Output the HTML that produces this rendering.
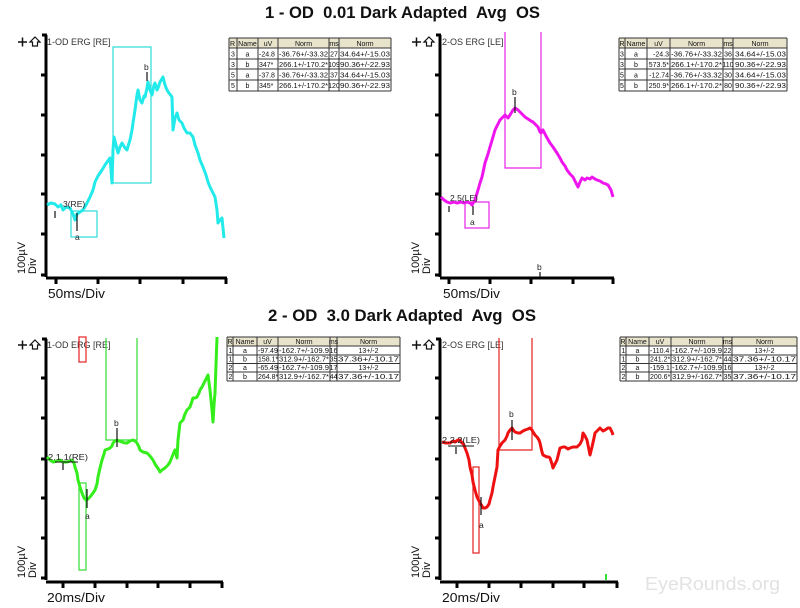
<!DOCTYPE html>
<html><head><meta charset="utf-8">
<style>
html,body{margin:0;padding:0;background:#fff;}
svg{display:block;}
text{font-family:"Liberation Sans",Arial,sans-serif;}
.t{font-size:7px;fill:#111;}
.lbl{font-size:9px;fill:#333;}
.sm{font-size:8.5px;fill:#222;}
</style></head>
<body>
<svg width="800" height="608" viewBox="0 0 800 608" xmlns="http://www.w3.org/2000/svg">
<rect width="800" height="608" fill="#fff"/>

<!-- Titles -->
<text x="265" y="18" font-size="17" font-weight="bold" fill="#111" textLength="275" lengthAdjust="spacingAndGlyphs" xml:space="preserve">1 - OD  0.01 Dark Adapted  Avg  OS</text>
<text x="268" y="321" font-size="17" font-weight="bold" fill="#111" textLength="268" lengthAdjust="spacingAndGlyphs" xml:space="preserve">2 - OD  3.0 Dark Adapted  Avg  OS</text>

<!-- ============ PANEL TL ============ -->
<g>
<path d="M18 42H27M22.5 37.5V46.5" stroke="#111" stroke-width="1.5"/>
<path d="M35 37 L40 42 L37.5 42 L37.5 46 L32.5 46 L32.5 42 L30 42 Z" fill="none" stroke="#111" stroke-width="1.2"/>
<text x="47" y="45" class="lbl">1-OD ERG [RE]</text>
<path d="M46 35V277M42 35H47M41 75H46M41 115H46M41 155H46M41 194H46M41 234H46M41 275H46" stroke="#000" stroke-width="3" fill="none"/>
<path d="M46 278H227M56 278V284M98 278V284M140 278V284M183 278V284M226 278V284" stroke="#000" stroke-width="3" fill="none"/>
<text x="48" y="298" font-size="13" fill="#111" textLength="57" lengthAdjust="spacingAndGlyphs">50ms/Div</text>
<text transform="translate(25,274) rotate(-90)" font-size="11" fill="#111">100µV</text>
<text transform="translate(36,274) rotate(-90)" font-size="11" fill="#111">Div</text>

<rect x="113" y="47" width="38" height="136" fill="none" stroke="#2fdada" stroke-width="1.2"/>
<rect x="71" y="211" width="26" height="26" fill="none" stroke="#2fdada" stroke-width="1.2"/>
<polyline fill="none" stroke="#22eaea" stroke-width="3" stroke-linejoin="round" points="47,205 51,203 55,204 58,207 61,205 63,210 66,207 70,208 73,214 75,220 77,214 80,212 83,210 86,205 90,197 93,190 95,182 98,176 102,170 105,165 107,162 110,158 111,170 112,183 113,150 114,137 116,145 118,153 120,147 122,143 125,148 127,150 129,143 130,140 132,130 133,123 135,110 137,95 138,90 140,100 142,103 144,96 145,97 147,88 148,82 150,90 152,95 154,85 155,83 157,90 158,88 160,82 163,77 165,85 167,90 169,93 172,97 173,130 175,118 177,113 179,120 182,123 184,128 187,133 190,133 193,137 195,145 198,153 200,160 203,167 206,175 208,182 210,187 213,193 215,197 217,210 218,223 220,220 222,218 223,228 224,238"/>
<text x="144" y="70" class="sm">b</text>
<path d="M147 72V81M77 213V231M55 211V218" stroke="#111" stroke-width="1.2"/>
<text x="75" y="240" class="sm">a</text>
<text x="63" y="207" class="sm">3(RE)</text>
</g>

<!-- Table TL -->
<g>
<rect x="229" y="38" width="162" height="10" fill="#e8e4cc"/>
<path d="M229 38H391M229 48H391M229 59H391M229 69H391M229 80H391M229 91H391M229 38V91M237 38V91M258 38V91M278 38V91M329 38V91M339 38V91M391 38V91" stroke="#333" stroke-width="1" fill="none"/>
<g class="t">
<text x="230" y="46">R</text><text x="247.5" y="46" text-anchor="middle">Name</text><text x="268" y="46" text-anchor="middle">uV</text><text x="303.5" y="46" text-anchor="middle">Norm</text><text x="334" y="46" text-anchor="middle">ms</text><text x="365" y="46" text-anchor="middle">Norm</text>
<text x="231" y="56.5">3</text><text x="247.5" y="56.5" text-anchor="middle">a</text><text x="259" y="56.5">-24.8</text><text x="279" y="56.5" textLength="49" lengthAdjust="spacingAndGlyphs">-36.76+/-33.32</text><text x="334" y="56.5" text-anchor="middle">27</text><text x="340" y="56.5" textLength="50" lengthAdjust="spacingAndGlyphs">34.64+/-15.03</text>
<text x="231" y="67">3</text><text x="247.5" y="67" text-anchor="middle">b</text><text x="259" y="67">347*</text><text x="279" y="67" textLength="49" lengthAdjust="spacingAndGlyphs">266.1+/-170.2*</text><text x="334" y="67" text-anchor="middle">109</text><text x="340" y="67" textLength="50" lengthAdjust="spacingAndGlyphs">90.36+/-22.93</text>
<text x="231" y="77.5">5</text><text x="247.5" y="77.5" text-anchor="middle">a</text><text x="259" y="77.5">-37.8</text><text x="279" y="77.5" textLength="49" lengthAdjust="spacingAndGlyphs">-36.76+/-33.32</text><text x="334" y="77.5" text-anchor="middle">37</text><text x="340" y="77.5" textLength="50" lengthAdjust="spacingAndGlyphs">34.64+/-15.03</text>
<text x="231" y="88">5</text><text x="247.5" y="88" text-anchor="middle">b</text><text x="259" y="88">345*</text><text x="279" y="88" textLength="49" lengthAdjust="spacingAndGlyphs">266.1+/-170.2*</text><text x="334" y="88" text-anchor="middle">120</text><text x="340" y="88" textLength="50" lengthAdjust="spacingAndGlyphs">90.36+/-22.93</text>
</g>
</g>

<!-- ============ PANEL TR ============ -->
<g>
<path d="M412 42H421M416.5 37.5V46.5" stroke="#111" stroke-width="1.5"/>
<path d="M429 37 L434 42 L431.5 42 L431.5 46 L426.5 46 L426.5 42 L424 42 Z" fill="none" stroke="#111" stroke-width="1.2"/>
<text x="442" y="45" class="lbl">2-OS ERG [LE]</text>
<path d="M440 35V277M436 35H441M435 75H440M435 115H440M435 155H440M435 194H440M435 234H440M435 275H440" stroke="#000" stroke-width="3" fill="none"/>
<path d="M440 278H614M449 278V284M490 278V284M531 278V284M573 278V284M613 278V284" stroke="#000" stroke-width="3" fill="none"/>
<text x="443" y="298" font-size="13" fill="#111" textLength="57" lengthAdjust="spacingAndGlyphs">50ms/Div</text>
<text transform="translate(419,274) rotate(-90)" font-size="11" fill="#111">100µV</text>
<text transform="translate(430,274) rotate(-90)" font-size="11" fill="#111">Div</text>

<path d="M505 32V168H541V32" fill="none" stroke="#ea22ea" stroke-width="1.2"/>
<rect x="465" y="202" width="24" height="26" fill="none" stroke="#ea22ea" stroke-width="1.2"/>
<polyline fill="none" stroke="#ee15ee" stroke-width="3" stroke-linejoin="round" points="441,197 444,200 447,202 450,203 454,202 457,203 461,202 464,203 467,202 470,203 472,205 475,200 478,190 480,183 482,177 485,163 488,154 490,147 493,137 495,130 498,124 500,120 503,117 505,115 507,117 508,118 510,115 513,110 515,108 518,110 520,112 523,115 525,117 528,119 531,121 533,122 536,125 538,127 540,132 541,133 543,130 546,136 550,143 553,147 557,153 560,158 562,162 565,166 567,170 570,174 573,177 575,181 578,187 580,182 582,178 585,180 587,178 590,179 592,177 595,179 597,180 600,181 603,183 606,184 608,185 611,190 613,197"/>
<text x="512" y="95" class="sm">b</text>
<path d="M515 97V113M473 206V215M449 206V212M540 272V277" stroke="#111" stroke-width="1.2"/>
<text x="470" y="225" class="sm">a</text>
<text x="450" y="201" class="sm">2.5(LE)</text>
<text x="537" y="270" class="sm">b</text>
</g>

<!-- Table TR -->
<g>
<rect x="619" y="38" width="168" height="10" fill="#e8e4cc"/>
<path d="M619 38H787M619 48H787M619 59H787M619 69H787M619 80H787M619 91H787M619 38V91M625 38V91M647 38V91M670 38V91M723 38V91M733 38V91M787 38V91" stroke="#333" stroke-width="1" fill="none"/>
<g class="t">
<text x="619.5" y="46">R</text><text x="636" y="46" text-anchor="middle">Name</text><text x="658.5" y="46" text-anchor="middle">uV</text><text x="696.5" y="46" text-anchor="middle">Norm</text><text x="728" y="46" text-anchor="middle">ms</text><text x="760" y="46" text-anchor="middle">Norm</text>
<text x="620" y="56.5">3</text><text x="636" y="56.5" text-anchor="middle">a</text><text x="669" y="56.5" text-anchor="end">-24.3</text><text x="671" y="56.5" textLength="51" lengthAdjust="spacingAndGlyphs">-36.76+/-33.32</text><text x="728" y="56.5" text-anchor="middle">36</text><text x="735" y="56.5" textLength="51" lengthAdjust="spacingAndGlyphs">34.64+/-15.03</text>
<text x="620" y="67">3</text><text x="636" y="67" text-anchor="middle">b</text><text x="669" y="67" text-anchor="end">573.5*</text><text x="671" y="67" textLength="51" lengthAdjust="spacingAndGlyphs">266.1+/-170.2*</text><text x="728" y="67" text-anchor="middle">110</text><text x="735" y="67" textLength="51" lengthAdjust="spacingAndGlyphs">90.36+/-22.93</text>
<text x="620" y="77.5">5</text><text x="636" y="77.5" text-anchor="middle">a</text><text x="669" y="77.5" text-anchor="end">-12.74</text><text x="671" y="77.5" textLength="51" lengthAdjust="spacingAndGlyphs">-36.76+/-33.32</text><text x="728" y="77.5" text-anchor="middle">30</text><text x="735" y="77.5" textLength="51" lengthAdjust="spacingAndGlyphs">34.64+/-15.03</text>
<text x="620" y="88">5</text><text x="636" y="88" text-anchor="middle">b</text><text x="669" y="88" text-anchor="end">250.9*</text><text x="671" y="88" textLength="51" lengthAdjust="spacingAndGlyphs">266.1+/-170.2*</text><text x="728" y="88" text-anchor="middle">80</text><text x="735" y="88" textLength="51" lengthAdjust="spacingAndGlyphs">90.36+/-22.93</text>
</g>
</g>

<!-- ============ PANEL BL ============ -->
<g>
<path d="M18 345H27M22.5 340.5V349.5" stroke="#111" stroke-width="1.5"/>
<path d="M35 340 L40 345 L37.5 345 L37.5 349 L32.5 349 L32.5 345 L30 345 Z" fill="none" stroke="#111" stroke-width="1.2"/>
<text x="47" y="348" class="lbl">1-OD ERG [RE]</text>
<path d="M46 339V580M42 339H47M41 378H46M41 418H46M41 459H46M41 498H46M41 538H46M41 578H46" stroke="#000" stroke-width="3" fill="none"/>
<path d="M46 582H223M63 582V588M95 582V588M127 582V588M158 582V588M190 582V588M222 582V588" stroke="#000" stroke-width="3" fill="none"/>
<text x="47" y="602" font-size="13" fill="#111" textLength="58" lengthAdjust="spacingAndGlyphs">20ms/Div</text>
<text transform="translate(25,578) rotate(-90)" font-size="11" fill="#111">100µV</text>
<text transform="translate(36,578) rotate(-90)" font-size="11" fill="#111">Div</text>

<path d="M106 338V440H137V338" fill="none" stroke="#33dd33" stroke-width="1.2"/>
<rect x="79" y="483" width="7" height="87" fill="none" stroke="#33dd33" stroke-width="1.2"/>
<rect x="79" y="337" width="7" height="25" fill="none" stroke="#e62222" stroke-width="1.2"/>
<polyline fill="none" stroke="#33ee1a" stroke-width="3" stroke-linejoin="round" points="47,457 50,460 53,462 57,461 60,460 63,462 67,462 70,461 72,460 74,463 75,467 77,473 78,480 80,487 82,493 84,498 86,500 88,499 90,497 93,493 95,490 97,484 98,477 100,468 102,460 104,454 105,450 108,449 110,448 112,446 113,443 115,441 117,440 119,441 122,442 125,443 127,443 130,441 133,440 135,441 137,443 139,447 140,450 143,452 147,453 150,456 153,460 155,464 157,467 159,470 160,472 162,470 165,468 168,465 170,462 172,457 174,452 175,450 176,454 177,458 178,440 180,423 182,421 183,420 185,414 187,410 189,408 190,407 192,401 193,398 195,398 197,397 199,393 200,390 202,387 203,385 205,381 208,375 210,390 212,410 213,422 214,405 215,393 216,365 217,337"/>
<text x="114" y="426" class="sm">b</text>
<path d="M117 428V447M87 489V508M63 463V470" stroke="#111" stroke-width="1.2"/>
<path d="M55 462H78" stroke="#111" stroke-width="1"/>
<text x="85" y="519" class="sm">a</text>
<text x="48" y="460" class="sm" textLength="40" lengthAdjust="spacingAndGlyphs">2.1.1(RE)</text>
</g>

<!-- Table BL -->
<g>
<rect x="227" y="337" width="173" height="9" fill="#e8e4cc"/>
<path d="M227 337H400M227 346H400M227 355H400M227 363.5H400M227 372H400M227 381H400M227 337V381M233 337V381M257 337V381M278 337V381M330 337V381M337 337V381M400 337V381" stroke="#333" stroke-width="1" fill="none"/>
<g class="t">
<text x="227.5" y="344">R</text><text x="245" y="344" text-anchor="middle">Name</text><text x="267.5" y="344" text-anchor="middle">uV</text><text x="304" y="344" text-anchor="middle">Norm</text><text x="333.5" y="344" text-anchor="middle">ms</text><text x="368.5" y="344" text-anchor="middle">Norm</text>
<text x="228.5" y="353">1</text><text x="245" y="353" text-anchor="middle">a</text><text x="258" y="353">-97.49</text><text x="279" y="353" textLength="50" lengthAdjust="spacingAndGlyphs">-162.7+/-109.9</text><text x="333.5" y="353" text-anchor="middle">16</text><text x="368.5" y="353" text-anchor="middle">13+/-2</text>
<text x="228.5" y="361.5">1</text><text x="245" y="361.5" text-anchor="middle">b</text><text x="258" y="361.5">158.1*</text><text x="279" y="361.5" textLength="50" lengthAdjust="spacingAndGlyphs">312.9+/-162.7*</text><text x="333.5" y="361.5" text-anchor="middle">35</text><text x="338" y="361.5" textLength="61" lengthAdjust="spacingAndGlyphs">37.36+/-10.17</text>
<text x="228.5" y="370">2</text><text x="245" y="370" text-anchor="middle">a</text><text x="258" y="370">-65.49</text><text x="279" y="370" textLength="50" lengthAdjust="spacingAndGlyphs">-162.7+/-109.9</text><text x="333.5" y="370" text-anchor="middle">17</text><text x="368.5" y="370" text-anchor="middle">13+/-2</text>
<text x="228.5" y="379">2</text><text x="245" y="379" text-anchor="middle">b</text><text x="258" y="379">264.8*</text><text x="279" y="379" textLength="50" lengthAdjust="spacingAndGlyphs">312.9+/-162.7*</text><text x="333.5" y="379" text-anchor="middle">44</text><text x="338" y="379" textLength="61" lengthAdjust="spacingAndGlyphs">37.36+/-10.17</text>
</g>
</g>

<!-- ============ PANEL BR ============ -->
<g>
<path d="M412 345H421M416.5 340.5V349.5" stroke="#111" stroke-width="1.5"/>
<path d="M429 340 L434 345 L431.5 345 L431.5 349 L426.5 349 L426.5 345 L424 345 Z" fill="none" stroke="#111" stroke-width="1.2"/>
<text x="442" y="348" class="lbl">2-OS ERG [LE]</text>
<path d="M440 339V580M436 339H441M435 378H440M435 418H440M435 459H440M435 498H440M435 538H440M435 578H440" stroke="#000" stroke-width="3" fill="none"/>
<path d="M440 582H618M457 582V588M489 582V588M521 582V588M553 582V588M584 582V588M617 582V588" stroke="#000" stroke-width="3" fill="none"/>
<text x="442" y="602" font-size="13" fill="#111" textLength="58" lengthAdjust="spacingAndGlyphs">20ms/Div</text>
<text transform="translate(419,578) rotate(-90)" font-size="11" fill="#111">100µV</text>
<text transform="translate(430,578) rotate(-90)" font-size="11" fill="#111">Div</text>

<path d="M499 338V450H532V338" fill="none" stroke="#e62222" stroke-width="1.2"/>
<rect x="473" y="467" width="6" height="86" fill="none" stroke="#e62222" stroke-width="1.2"/>
<polyline fill="none" stroke="#ee1111" stroke-width="3" stroke-linejoin="round" points="442,442 446,443 450,443 453,441 455,442 458,440 460,440 462,443 463,443 465,448 467,453 469,460 470,467 472,475 473,482 475,490 477,497 479,501 480,503 482,506 483,508 485,508 487,507 489,504 490,500 492,493 493,487 495,477 497,467 498,450 500,446 502,443 504,441 505,440 507,436 508,433 510,430 512,428 514,431 515,432 518,433 520,433 523,431 525,430 528,429 530,428 532,430 533,432 535,435 537,437 539,440 540,443 542,452 543,455 545,456 547,457 549,457 550,458 552,464 553,468 555,464 557,460 559,452 560,448 563,447 565,447 568,449 570,448 573,447 577,447 580,444 582,440 583,433 585,436 587,440 589,450 590,455 591,451 592,447 594,438 595,433 598,430 600,428 603,431 605,430 608,428 610,428 612,432 613,435"/>
<text x="509" y="417" class="sm">b</text>
<path d="M512 420V440M481 497V515M456 447V454" stroke="#111" stroke-width="1.2"/>
<path d="M448 446H474" stroke="#111" stroke-width="1"/>
<text x="479" y="528" class="sm">a</text>
<text x="442" y="443" class="sm" textLength="38" lengthAdjust="spacingAndGlyphs">2.2.2(LE)</text>
<path d="M606 574V580" stroke="#33dd33" stroke-width="2"/>
</g>

<!-- Table BR -->
<g>
<rect x="620" y="337" width="177" height="9" fill="#e8e4cc"/>
<path d="M620 337H797M620 346H797M620 355H797M620 363.5H797M620 372H797M620 381H797M620 337V381M626 337V381M649 337V381M671 337V381M723 337V381M732 337V381M797 337V381" stroke="#333" stroke-width="1" fill="none"/>
<g class="t">
<text x="620.5" y="344">R</text><text x="637.5" y="344" text-anchor="middle">Name</text><text x="660" y="344" text-anchor="middle">uV</text><text x="697" y="344" text-anchor="middle">Norm</text><text x="727.5" y="344" text-anchor="middle">ms</text><text x="764.5" y="344" text-anchor="middle">Norm</text>
<text x="621.5" y="353">1</text><text x="637.5" y="353" text-anchor="middle">a</text><text x="650" y="353">-110.4</text><text x="672" y="353" textLength="50" lengthAdjust="spacingAndGlyphs">-162.7+/-109.9</text><text x="727.5" y="353" text-anchor="middle">22</text><text x="764.5" y="353" text-anchor="middle">13+/-2</text>
<text x="621.5" y="361.5">1</text><text x="637.5" y="361.5" text-anchor="middle">b</text><text x="650" y="361.5">241.2*</text><text x="672" y="361.5" textLength="50" lengthAdjust="spacingAndGlyphs">312.9+/-162.7*</text><text x="727.5" y="361.5" text-anchor="middle">44</text><text x="733" y="361.5" textLength="63" lengthAdjust="spacingAndGlyphs">37.36+/-10.17</text>
<text x="621.5" y="370">2</text><text x="637.5" y="370" text-anchor="middle">a</text><text x="650" y="370">-159.1</text><text x="672" y="370" textLength="50" lengthAdjust="spacingAndGlyphs">-162.7+/-109.9</text><text x="727.5" y="370" text-anchor="middle">16</text><text x="764.5" y="370" text-anchor="middle">13+/-2</text>
<text x="621.5" y="379">2</text><text x="637.5" y="379" text-anchor="middle">b</text><text x="650" y="379">200.6*</text><text x="672" y="379" textLength="50" lengthAdjust="spacingAndGlyphs">312.9+/-162.7*</text><text x="727.5" y="379" text-anchor="middle">35</text><text x="733" y="379" textLength="63" lengthAdjust="spacingAndGlyphs">37.36+/-10.17</text>
</g>
</g>

<!-- Watermark -->
<text x="645" y="590" font-size="18" fill="#e2e2e2" textLength="135" lengthAdjust="spacingAndGlyphs">EyeRounds.org</text>
</svg>
</body></html>
